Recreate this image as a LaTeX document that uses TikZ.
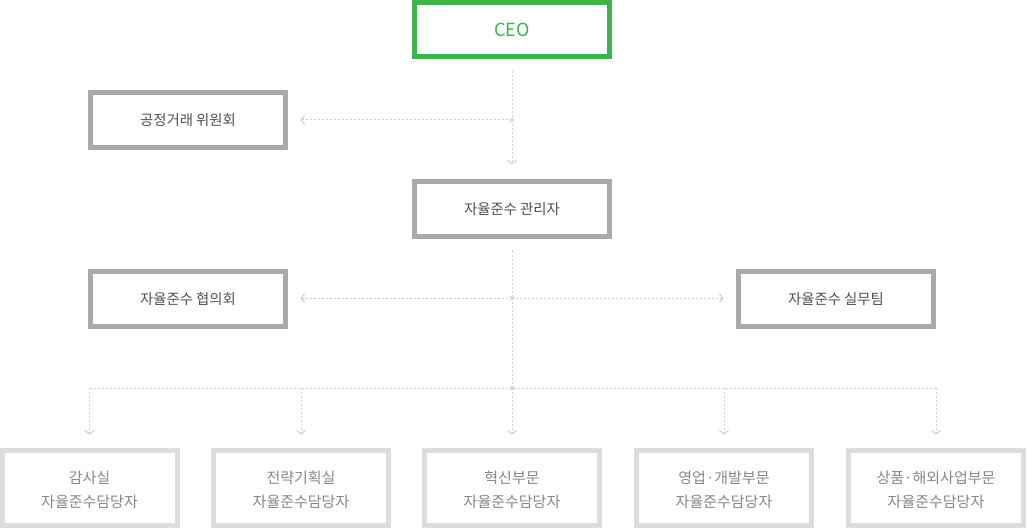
\documentclass[tikz,border=0pt]{standalone}
\usepackage{fontspec}
\setmainfont{Noto Sans CJK KR}
\usetikzlibrary{arrows.meta}
\definecolor{ceogreen}{HTML}{3CB44B}
\definecolor{boxgray}{HTML}{AAAAAA}
\definecolor{unitgray}{HTML}{DDDDDD}
\definecolor{txtdark}{HTML}{505050}
\definecolor{txtlight}{HTML}{888888}
\definecolor{linegray}{HTML}{CFCFCF}
\definecolor{dotgray}{HTML}{DDDDDD}
\tikzset{
  box/.style={draw=boxgray, line width=5pt, minimum width=195pt, minimum height=55pt,
    inner sep=0pt, text=txtdark, font=\fontsize{14.4}{17}\selectfont},
  ceobox/.style={box, draw=ceogreen, text=ceogreen, minimum height=54pt, font=\fontsize{18}{20}\selectfont},
  unit/.style={draw=unitgray, line width=5pt, minimum width=175pt, minimum height=75pt,
    inner sep=0pt},
  unittext/.style={text=txtlight, align=center, inner sep=0pt, yshift=-2pt, font=\fontsize{15}{23.5}\selectfont},
  conn/.style={draw=linegray, line width=1pt, dash pattern=on 2pt off 2pt},
  arr/.style={-{Straight Barb[length=3.5pt,width=9pt,line width=1pt]}},
  jdot/.style={circle, fill=dotgray, inner sep=0pt, minimum size=5pt}
}
\begin{document}
\begin{tikzpicture}[x=1pt,y=-1pt]
\useasboundingbox[fill=white] (0,0) rectangle (1027,529);
% boxes
\node[ceobox] (ceo) at (512,29.5) {CEO};
\node[box] (ftc) at (188,120) {공정거래 위원회};
\node[box] (mgr) at (512,209) {자율준수 관리자};
\node[box] (council) at (188,299) {자율준수 협의회};
\node[box] (team) at (836,299) {자율준수 실무팀};
\node[unit, label={[unittext]center:{감사실\\자율준수담당자}}] (u1) at (89.5,488) {};
\node[unit, label={[unittext]center:{전략기획실\\자율준수담당자}}] (u2) at (301,488) {};
\node[unit, label={[unittext]center:{혁신부문\\자율준수담당자}}] (u3) at (512,488) {};
\node[unit, label={[unittext]center:{영업·개발부문\\자율준수담당자}}] (u4) at (724,488) {};
\node[unit, label={[unittext]center:{상품·해외사업부문\\자율준수담당자}}] (u5) at (936,488) {};
% junctions
\coordinate (j1) at (512,120);
\coordinate (j2) at (512,298);
\coordinate (j3) at (512,388);
% connectors
\draw[conn, shorten <=12.5pt] (ceo.south) -- (j1);
\draw[conn, arr, shorten >=14.5pt] (j1) -- (mgr.north);
\draw[conn, arr, shorten >=12.5pt] (j1) -- (ftc.east |- j1);
\draw[conn, shorten <=11.5pt] (mgr.south) -- (j2);
\draw[conn] (j2) -- (j3);
\draw[conn, arr, shorten >=12.5pt] (j2) -- (council.east |- j2);
\draw[conn, arr, shorten >=12.5pt] (j2) -- (team.west |- j2);
\draw[conn] (u1.north |- j3) -- (u5.north |- j3);
\foreach \u in {u1,u2,u3,u4,u5}{
  \draw[conn, arr, shorten >=13.5pt] (\u.north |- j3) -- (\u.north);
}
\node[jdot] (d1) at (j1) {};
\node[jdot] (d2) at (j2) {};
\node[jdot] (d3) at (j3) {};
\end{tikzpicture}
\end{document}
